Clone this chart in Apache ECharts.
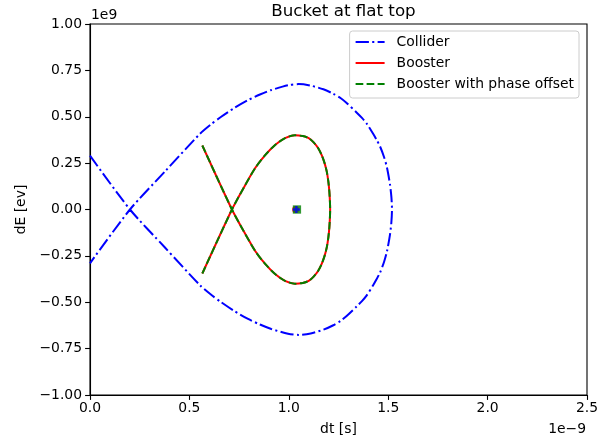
<!DOCTYPE html>
<html>
<head>
<meta charset="utf-8">
<script src="https://cdn.jsdelivr.net/npm/echarts@6/dist/echarts.min.js"></script>
<style>
  html, body { margin: 0; padding: 0; background: #fff; }
  #chart { width: 597px; height: 440px; }
</style>
</head>
<body>
<div id="chart"></div>
<script>
// dt in units of 1e-9 s, dE in units of 1e9 eV
// Separatrix paths (traversed so the line passes straight through the crossing)
const colliderDt = [0.000, 0.201, 0.377, 0.553, 0.605, 0.660, 0.727, 0.795, 0.855, 0.912, 0.996, 1.050, 1.110, 1.174, 1.224, 1.260, 1.291, 1.342, 1.368, 1.392, 1.425, 1.442, 1.459, 1.479, 1.494, 1.509, 1.516, 1.519,
                    1.516, 1.509, 1.494, 1.479, 1.459, 1.442, 1.425, 1.392, 1.368, 1.342, 1.291, 1.260, 1.224, 1.174, 1.110, 1.050, 0.996, 0.912, 0.855, 0.795, 0.727, 0.660, 0.605, 0.553, 0.377, 0.201, 0.000];
const colliderDE = [0.290, 0.000, -0.205, -0.408, -0.456, -0.500, -0.548, -0.590, -0.620, -0.644, -0.670, -0.676, -0.668, -0.648, -0.624, -0.601, -0.574, -0.522, -0.494, -0.463, -0.407, -0.375, -0.340, -0.283, -0.225, -0.135, -0.068, 0.000,
                    0.068, 0.135, 0.225, 0.283, 0.340, 0.375, 0.407, 0.463, 0.494, 0.522, 0.574, 0.601, 0.624, 0.648, 0.668, 0.676, 0.670, 0.644, 0.620, 0.590, 0.548, 0.500, 0.456, 0.408, 0.205, 0.000, -0.290];

const boosterDt = [0.565, 0.714, 0.772, 0.830, 0.880, 0.931, 0.981, 1.031, 1.070, 1.100, 1.125, 1.148, 1.166, 1.180, 1.191, 1.199, 1.204, 1.207, 1.208,
                   1.207, 1.204, 1.199, 1.191, 1.180, 1.166, 1.148, 1.125, 1.100, 1.070, 1.031, 0.981, 0.931, 0.880, 0.830, 0.772, 0.714, 0.565];
const boosterDE = [0.345, 0.000, -0.115, -0.222, -0.292, -0.348, -0.385, -0.400, -0.396, -0.385, -0.362, -0.330, -0.292, -0.250, -0.204, -0.150, -0.096, -0.040, 0.000,
                   0.040, 0.096, 0.150, 0.204, 0.250, 0.292, 0.330, 0.362, 0.385, 0.396, 0.400, 0.385, 0.348, 0.292, 0.222, 0.115, 0.000, -0.345];

const offsetDt = [0.565, 0.714, 0.772, 0.830, 0.880, 0.931, 0.981, 1.031, 1.070, 1.100, 1.125, 1.148, 1.166, 1.180, 1.191, 1.199, 1.204, 1.207, 1.208,
                  1.207, 1.204, 1.199, 1.191, 1.180, 1.166, 1.148, 1.125, 1.100, 1.070, 1.031, 0.981, 0.931, 0.880, 0.830, 0.772, 0.714, 0.565];
const offsetDE = [0.345, 0.000, -0.115, -0.222, -0.292, -0.348, -0.385, -0.400, -0.396, -0.385, -0.362, -0.330, -0.292, -0.250, -0.204, -0.150, -0.096, -0.040, 0.000,
                  0.040, 0.096, 0.150, 0.204, 0.250, 0.292, 0.330, 0.362, 0.385, 0.396, 0.400, 0.385, 0.348, 0.292, 0.222, 0.115, 0.000, -0.345];

// Synchronous particle markers
const colliderMarker = [1.038, 0.0];
const boosterMarker = [1.034, 0.0];
const offsetMarker = [1.041, 0.0];

const xTicks = [0.0, 0.5, 1.0, 1.5, 2.0, 2.5];
const yTicks = [-1.00, -0.75, -0.50, -0.25, 0.00, 0.25, 0.50, 0.75, 1.00];

const titleText = 'Bucket at flat top';
const seriesNames = ['Collider', 'Booster', 'Booster with phase offset'];

const zip = (a, b) => a.map((v, i) => [v, b[i]]);
const FONT = 'DejaVu Sans';
const FS = 13.9;
const fmtMinus = (v, d) => (v < 0 ? '\u2212' : '') + Math.abs(v).toFixed(d);

const chart = echarts.init(document.getElementById('chart'), null, { renderer: 'canvas' });
chart.setOption({
  animation: false,
  backgroundColor: '#fff',
  textStyle: { fontFamily: FONT },
  title: {
    text: titleText,
    left: 338.5,
    textAlign: 'center',
    top: -2,
    textStyle: { fontFamily: FONT, fontSize: 16.7, fontWeight: 'normal', color: '#000' }
  },
  grid: {
    left: 90, top: 24, width: 497, height: 371,
    containLabel: false,
    outerBoundsMode: 'none',
    show: true, borderColor: '#000', borderWidth: 1.1, backgroundColor: 'transparent'
  },
  legend: {
    data: seriesNames,
    orient: 'vertical',
    right: 18,
    top: 31,
    itemWidth: 29,
    itemHeight: 14,
    itemGap: 7,
    padding: [4, 5, 7, 5],
    backgroundColor: '#fff',
    borderColor: '#cccccc',
    borderWidth: 1,
    borderRadius: 3,
    itemStyle: { opacity: 0 },
    textStyle: { fontFamily: FONT, fontSize: FS, lineHeight: 14, color: '#000', padding: [0, 0, 0, 7] }
  },
  xAxis: {
    type: 'value',
    min: xTicks[0], max: xTicks[xTicks.length - 1], interval: 0.5,
    name: 'dt [s]', nameLocation: 'middle', nameGap: 27,
    nameTextStyle: { fontFamily: FONT, fontSize: FS, color: '#000' },
    axisLine: { show: true, onZero: false, lineStyle: { color: '#000', width: 1.1 } },
    axisTick: { show: true, inside: false, length: 4.9, lineStyle: { color: '#000', width: 1.1 } },
    axisLabel: { fontFamily: FONT, fontSize: FS, color: '#000', margin: 6.5, formatter: v => fmtMinus(v, 1) },
    splitLine: { show: false }
  },
  yAxis: {
    type: 'value',
    min: yTicks[0], max: yTicks[yTicks.length - 1], interval: 0.25,
    name: 'dE [ev]', nameLocation: 'middle', nameGap: 61, nameRotate: 90,
    nameTextStyle: { fontFamily: FONT, fontSize: FS, color: '#000' },
    axisLine: { show: true, onZero: false, lineStyle: { color: '#000', width: 1.1 } },
    axisTick: { show: true, inside: false, length: 4.9, lineStyle: { color: '#000', width: 1.1 } },
    axisLabel: { fontFamily: FONT, fontSize: FS, color: '#000', margin: 8, formatter: v => fmtMinus(v, 2) },
    splitLine: { show: false }
  },
  graphic: [
    { type: 'text', left: 91, top: 8, style: { text: '1e9', fontFamily: FONT, fontSize: FS, fill: '#000' } },
    { type: 'text', right: 11, top: 422, style: { text: '1e\u22129', fontFamily: FONT, fontSize: FS, fill: '#000' } }
  ],
  series: [
    {
      name: seriesNames[0], type: 'line', data: zip(colliderDt, colliderDE),
      smooth: 0.25, symbol: 'none', color: '#0000ff',
      lineStyle: { color: '#0000ff', width: 2, type: [13.3, 3.3, 2.1, 3.3] },
      z: 2
    },
    {
      name: seriesNames[1], type: 'line', data: zip(boosterDt, boosterDE),
      smooth: 0.25, symbol: 'none', color: '#ff0000',
      lineStyle: { color: '#ff0000', width: 2, type: 'solid' },
      z: 3
    },
    {
      name: seriesNames[2], type: 'line', data: zip(offsetDt, offsetDE),
      smooth: 0.25, symbol: 'none', color: '#008000',
      lineStyle: { color: '#008000', width: 2, type: [7.7, 3.3] },
      z: 4
    },
    {
      name: 'boosterMarker', type: 'scatter', data: [boosterMarker],
      symbol: 'circle', symbolSize: 7, itemStyle: { color: '#ff0000' }, z: 5
    },
    {
      name: 'offsetMarker', type: 'scatter', data: [offsetMarker],
      symbol: 'rect', symbolSize: 8.3, itemStyle: { color: '#008000' }, z: 6
    },
    {
      name: 'colliderMarker', type: 'scatter', data: [colliderMarker],
      symbol: 'path://M2,0H4V2H6V4H4V6H2V4H0V2H2Z', symbolSize: 7, itemStyle: { color: '#0000ff' }, z: 7
    }
  ]
});
</script>
</body>
</html>
